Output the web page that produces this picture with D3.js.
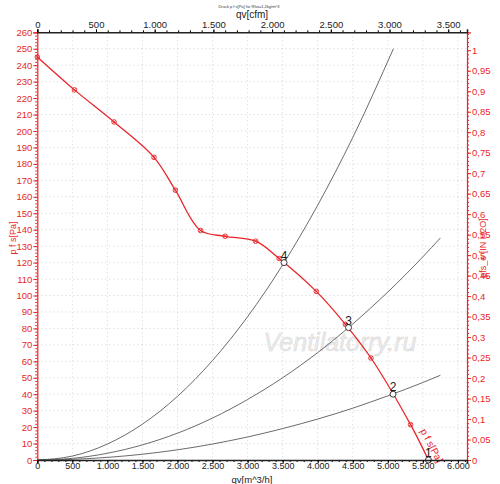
<!DOCTYPE html>
<html>
<head>
<meta charset="utf-8">
<script src="https://cdn.jsdelivr.net/npm/d3@7"></script>
<style>
  body { margin: 0; background: #fff; }
  svg { font-family: Arial, "Liberation Sans", sans-serif; }
  .grid line { stroke: #c8c8c8; stroke-width: 0.8; stroke-dasharray: 1 3; }
  .red text { fill: #e8262a; }
  .red line, .red path { stroke: #e8262a; }
  .blk text { fill: #222; }
</style>
</head>
<body>
<svg width="500" height="484"></svg>
<script>
const w = 500, h = 484;
const padL = 37.3, padR = 467, padT = 32.3, padB = 460;

// fan curve (measured points + end point on the axis)
const fanQ = [0, 530, 1095, 1665, 1970, 2330, 2680, 3115, 3450, 3980, 4395, 4760, 5325, 5580];
const fanP = [245, 225, 205.5, 184, 164, 139.5, 136, 133, 122.5, 102.5, 82.5, 62, 21.5, 0];

// operating points on system curves
const opQ = [5580, 5075, 4440, 3520];
const opP = [0, 40, 80.5, 120];
const opLabel = ["1", "2", "3", "4"];

// system curves
const sys4Q = [0, 500, 1000, 1500, 2000, 2500, 3000, 3500, 4000, 4500, 5080];
const sys4P = [0, 2.4, 9.7, 21.8, 38.7, 60.5, 87.1, 118.6, 154.9, 196, 250];
const sysQ  = [0, 500, 1000, 1500, 2000, 2500, 3000, 3500, 4000, 4500, 5000, 5500, 5750];
const sys3P = [0, 1.0, 4.1, 9.2, 16.3, 25.5, 36.8, 50.0, 65.3, 82.7, 102.1, 123.5, 135];
const sys2P = [0, 0.4, 1.6, 3.5, 6.2, 9.7, 14.0, 19.1, 24.9, 31.5, 39.0, 47.1, 51.5];

// axes
const pTicks   = d3.range(0, 261, 10);
const qTicks   = d3.range(0, 6001, 500);
const cfmTicks = d3.range(0, 3501, 500);
const inTicks  = d3.range(0, 1.001, 0.05);

const de = d3.formatLocale({decimal: ",", thousands: ".", grouping: [3], currency: ["", ""]});
const fmtInt = de.format(",.0f");
const fmtIn  = de.format(".2~f");

const scaleX   = d3.scaleLinear().domain([0, 6130]).range([padL, padR]);
const scaleCfm = d3.scaleLinear().domain([0, 3660]).range([padL, padR]);
const scaleY   = d3.scaleLinear().domain([0, 260]).range([padB, padT]);
const scaleIn  = d3.scaleLinear().domain([0, 260 / 249.09]).range([padB, padT]);

const svg = d3.select("svg");

// grid
const grid = svg.append("g").attr("class", "grid");
grid.selectAll("line.h").data(pTicks.slice(1, -1)).join("line").attr("class", "h")
    .attr("x1", padL).attr("x2", padR)
    .attr("y1", d => scaleY(d)).attr("y2", d => scaleY(d));
grid.selectAll("line.v").data(qTicks.slice(1)).join("line").attr("class", "v")
    .attr("y1", padT).attr("y2", padB)
    .attr("x1", d => scaleX(d)).attr("x2", d => scaleX(d));

// watermark
svg.append("text")
    .attr("x", 340).attr("y", 351)
    .attr("text-anchor", "middle")
    .style("font-style", "italic")
    .style("font-size", "25px")
    .style("fill", "#ebebeb")
    .style("stroke", "#d8d8d8").style("stroke-width", 0.5)
    .text("Ventilatorry.ru");

// system curves
const line = d3.line().x(d => scaleX(d[0])).y(d => scaleY(d[1])).curve(d3.curveMonotoneX);
const sysData = [d3.zip(sys4Q, sys4P), d3.zip(sysQ, sys3P), d3.zip(sysQ, sys2P)];
svg.selectAll("path.sys").data(sysData).join("path").attr("class", "sys")
    .attr("d", line)
    .attr("fill", "none").attr("stroke", "#5a5a5a").attr("stroke-width", 0.9);

// fan curve
const fanLine = d3.line().x(d => scaleX(d[0])).y(d => scaleY(d[1])).curve(d3.curveCatmullRom.alpha(0.5));
const fanData = d3.zip(fanQ, fanP);
svg.append("path").datum(fanData)
    .attr("d", fanLine)
    .attr("fill", "none").attr("stroke", "#e8262a").attr("stroke-width", 1.3);

const marks = svg.selectAll("g.mark").data(fanData.slice(0, -1)).join("g").attr("class", "mark")
    .attr("transform", d => `translate(${[scaleX(d[0]), scaleY(d[1])]})`);
marks.append("circle").attr("r", 2.3).attr("fill", "none").attr("stroke", "#e8262a").attr("stroke-width", 0.9);
marks.append("path").attr("d", "M-1.6,-1.6L1.6,1.6M-1.6,1.6L1.6,-1.6")
    .attr("stroke", "#e8262a").attr("stroke-width", 0.8);

// fan curve label
svg.append("text")
    .attr("transform", `translate(${[420, 431]}) rotate(62)`)
    .style("font-size", "10px").style("fill", "#e8262a")
    .text("p f s[Pa]");

// operating points
const ops = svg.selectAll("g.op").data(d3.zip(opQ, opP, opLabel)).join("g").attr("class", "op")
    .attr("transform", d => `translate(${[scaleX(d[0]), scaleY(d[1])]})`);
ops.append("circle").attr("r", 3).attr("fill", "#fff").attr("stroke", "#222").attr("stroke-width", 0.9);
ops.append("text").attr("x", 0).attr("y", -3).attr("text-anchor", "middle")
    .style("font-size", "12px").style("fill", "#222")
    .text(d => d[2]);

// left axis (Pa)
svg.append("g").attr("class", "red").attr("transform", `translate(${padL},0)`)
    .call(d3.axisLeft(scaleY).tickValues(d3.range(0, 261, 2)).tickSize(2).tickFormat(""))
    .call(g => g.selectAll(".domain").remove());
const axL = svg.append("g").attr("class", "red").attr("transform", `translate(${padL},0)`)
    .call(d3.axisLeft(scaleY).tickValues(pTicks).tickSize(4).tickPadding(1))
    .style("font-size", "9.5px");
axL.select(".domain").attr("stroke-width", 1.2);

// right axis (in H2O)
svg.append("g").attr("class", "red").attr("transform", `translate(${padR},0)`)
    .call(d3.axisRight(scaleIn).tickValues(d3.range(0, 1.041, 0.01)).tickSize(2).tickFormat(""))
    .call(g => g.selectAll(".domain").remove());
const axR = svg.append("g").attr("class", "red").attr("transform", `translate(${padR},0)`)
    .call(d3.axisRight(scaleIn).tickValues(inTicks).tickSize(4).tickPadding(1).tickFormat(fmtIn))
    .style("font-size", "9.5px");
axR.select(".domain").attr("stroke-width", 1.2);

// bottom axis (m^3/h)
svg.append("g").attr("class", "blk").attr("transform", `translate(0,${padB})`)
    .call(d3.axisBottom(scaleX).tickValues(d3.range(0, 6101, 100)).tickSize(2).tickFormat(""))
    .call(g => g.selectAll(".domain").remove());
const axB = svg.append("g").attr("class", "blk").attr("transform", `translate(0,${padB})`)
    .call(d3.axisBottom(scaleX).tickValues(qTicks).tickSize(3).tickPadding(0).tickFormat(fmtInt))
    .style("font-size", "9px");
axB.select(".domain").attr("stroke-width", 1.6).attr("stroke", "#222");

// top axis (cfm)
svg.append("g").attr("class", "blk").attr("transform", `translate(0,${padT})`)
    .call(d3.axisTop(scaleCfm).tickValues(d3.range(0, 3601, 100)).tickSize(2).tickFormat(""))
    .call(g => g.selectAll(".domain").remove());
const axT = svg.append("g").attr("class", "blk").attr("transform", `translate(0,${padT})`)
    .call(d3.axisTop(scaleCfm).tickValues(cfmTicks).tickSize(3).tickPadding(1).tickFormat(fmtInt))
    .style("font-size", "9.5px");
axT.select(".domain").attr("stroke-width", 1.6).attr("stroke", "#222");

// titles
svg.append("text").attr("x", 249).attr("y", 8).attr("text-anchor", "middle")
    .style("font-size", "4px").style("fill", "#333")
    .text("Druck p f s[Pa] für Rho=1,2kg/m^3");
svg.append("text").attr("x", 252).attr("y", 18).attr("text-anchor", "middle")
    .style("font-size", "10px").style("fill", "#222")
    .text("qv[cfm]");
svg.append("text").attr("x", 252).attr("y", 483).attr("text-anchor", "middle")
    .style("font-size", "9.5px").style("fill", "#222")
    .text("qv[m^3/h]");
svg.append("text").attr("transform", `translate(${[16, 238]}) rotate(-90)`)
    .attr("text-anchor", "middle")
    .style("font-size", "9px").style("fill", "#e8262a")
    .text("p f s[Pa]");
svg.append("text").attr("transform", `translate(${[486, 248]}) rotate(-90)`)
    .attr("text-anchor", "middle")
    .style("font-size", "9px").style("fill", "#e8262a")
    .text("pfs_e [IN H2O]");
</script>
</body>
</html>
